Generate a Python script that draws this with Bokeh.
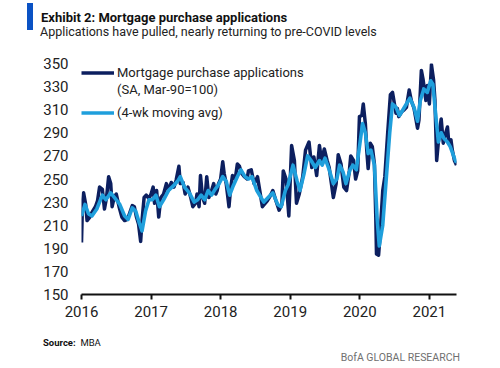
from bokeh.plotting import figure
from bokeh.models import (ColumnDataSource, FixedTicker, Legend, LegendItem, Range1d, Div)
from bokeh.layouts import column
from bokeh.embed import file_html
from bokeh.resources import INLINE

# ---------------- data ----------------
apps_t = [2016.00, 2016.015, 2016.03, 2016.06, 2016.08, 2016.12, 2016.15, 2016.20, 2016.23, 2016.26,
          2016.30, 2016.33, 2016.36, 2016.39, 2016.42, 2016.44, 2016.47, 2016.50, 2016.54, 2016.58,
          2016.62, 2016.66, 2016.69, 2016.73, 2016.76, 2016.79, 2016.82, 2016.85, 2016.87, 2016.90,
          2016.93, 2016.97, 2017.00, 2017.03, 2017.05, 2017.08, 2017.11, 2017.14, 2017.18, 2017.22,
          2017.25, 2017.29, 2017.33, 2017.36, 2017.40, 2017.42, 2017.46, 2017.49, 2017.53, 2017.57,
          2017.60, 2017.64, 2017.66, 2017.69, 2017.71, 2017.74, 2017.77, 2017.80, 2017.83, 2017.87,
          2017.90, 2017.93, 2017.95, 2017.97, 2018.00, 2018.03, 2018.05, 2018.08, 2018.12, 2018.14,
          2018.17, 2018.21, 2018.24, 2018.27, 2018.30, 2018.34, 2018.38, 2018.40, 2018.44, 2018.48,
          2018.53, 2018.60, 2018.67, 2018.71, 2018.75, 2018.79, 2018.84, 2018.88, 2018.90, 2018.94,
          2018.98, 2019.02, 2019.06, 2019.09, 2019.13, 2019.18, 2019.22, 2019.27, 2019.31, 2019.34,
          2019.38, 2019.42, 2019.45, 2019.49, 2019.53, 2019.56, 2019.59, 2019.62, 2019.66, 2019.69,
          2019.73, 2019.77, 2019.81, 2019.85, 2019.87, 2019.91, 2019.94, 2019.97, 2019.995, 2020.03,
          2020.05, 2020.08, 2020.10, 2020.12, 2020.15, 2020.18, 2020.21, 2020.23, 2020.24, 2020.27,
          2020.29, 2020.33, 2020.36, 2020.40, 2020.44, 2020.47, 2020.49, 2020.52, 2020.54, 2020.56,
          2020.60, 2020.64, 2020.67, 2020.71, 2020.74, 2020.78, 2020.83, 2020.85, 2020.885, 2020.91,
          2020.95, 2020.97, 2021.00, 2021.03, 2021.06, 2021.08, 2021.105, 2021.14, 2021.17, 2021.20,
          2021.23, 2021.26, 2021.28, 2021.31, 2021.33, 2021.36, 2021.39]
apps_v = [195, 231, 238, 228, 214, 217, 221, 226, 231, 243,
          241, 224, 234, 252, 246, 226, 234, 237, 226, 217,
          214, 215, 220, 227, 226, 217, 211, 196, 214, 234,
          236, 233, 237, 243, 229, 240, 217, 234, 237, 246,
          240, 247, 243, 249, 261, 246, 247, 237, 243, 234,
          226, 229, 237, 226, 253, 234, 229, 252, 234, 240,
          246, 237, 240, 246, 250, 265, 255, 246, 226, 240,
          253, 250, 263, 261, 255, 252, 250, 257, 258, 246,
          252, 226, 231, 235, 240, 232, 223, 228, 257, 250,
          218, 279, 266, 229, 237, 252, 275, 282, 260, 269,
          253, 279, 266, 276, 266, 260, 247, 234, 246, 271,
          263, 243, 240, 257, 270, 266, 250, 257, 304, 305,
          315, 298, 275, 259, 281, 278, 263, 217, 185, 184,
          200, 240, 252, 289, 323, 325, 318, 307, 311, 304,
          308, 310, 312, 327, 318, 311, 294, 301, 344, 336,
          318, 331, 315, 349, 336, 318, 266, 289, 302, 281,
          289, 295, 281, 284, 275, 266, 262]

avg_t = [2016.00, 2016.05, 2016.10, 2016.15, 2016.22, 2016.30, 2016.35, 2016.42, 2016.50, 2016.55,
         2016.62, 2016.67, 2016.73, 2016.78, 2016.83, 2016.87, 2016.92, 2016.97, 2017.02, 2017.07,
         2017.12, 2017.18, 2017.25, 2017.32, 2017.38, 2017.42, 2017.48, 2017.55, 2017.62, 2017.67,
         2017.72, 2017.77, 2017.82, 2017.87, 2017.92, 2017.97, 2018.03, 2018.08, 2018.13, 2018.18,
         2018.24, 2018.29, 2018.35, 2018.40, 2018.45, 2018.52, 2018.58, 2018.62, 2018.70, 2018.75,
         2018.82, 2018.87, 2018.93, 2018.97, 2019.04, 2019.10, 2019.14, 2019.20, 2019.25, 2019.30,
         2019.36, 2019.42, 2019.46, 2019.50, 2019.56, 2019.62, 2019.67, 2019.71, 2019.76, 2019.80,
         2019.86, 2019.90, 2019.95, 2020.00, 2020.04, 2020.08, 2020.12, 2020.16, 2020.21, 2020.25,
         2020.28, 2020.33, 2020.38, 2020.43, 2020.47, 2020.52, 2020.57, 2020.62, 2020.68, 2020.72,
         2020.78, 2020.83, 2020.87, 2020.92, 2020.97, 2021.02, 2021.05, 2021.10, 2021.13, 2021.17,
         2021.21, 2021.26, 2021.30, 2021.36, 2021.39]
avg_v = [218, 228, 220, 218, 224, 236, 232, 238, 232, 228,
         218, 215, 225, 222, 212, 205, 222, 232, 232, 236,
         226, 232, 240, 244, 248, 252, 243, 238, 230, 232,
         236, 232, 240, 236, 241, 245, 252, 248, 236, 244,
         252, 258, 252, 250, 252, 240, 234, 230, 235, 238,
         228, 226, 240, 245, 262, 248, 240, 255, 270, 266,
         260, 266, 262, 268, 258, 246, 250, 262, 256, 246,
         258, 262, 258, 280, 298, 290, 272, 275, 262, 215,
         192, 210, 250, 290, 315, 312, 305, 310, 316, 320,
         312, 300, 318, 328, 325, 335, 332, 300, 282, 290,
         285, 282, 278, 268, 264]

year_ticks = [2016, 2017, 2018, 2019, 2020, 2021]
value_ticks = [150, 170, 190, 210, 230, 250, 270, 290, 310, 330, 350]

title_text = "Exhibit 2: Mortgage purchase applications"
subtitle_text = "Applications have pulled, nearly returning to pre-COVID levels"
source_label = "Source:"
source_text = "MBA"
brand_text = "BofA GLOBAL RESEARCH"

# ---------------- style ----------------
FONT = "Roboto"
DARK = "#0c1f5f"
LIGHT = "#1f9fdc"
W = 500
HEAD_H, FIG_H, FOOT_H = 42, 284, 42

header = Div(width=W, height=HEAD_H, margin=0, text=f"""
<div style="position:relative;width:{W}px;height:{HEAD_H}px;font-family:Roboto;">
  <div style="position:absolute;left:27px;top:3px;width:6px;height:27px;background:#0a52c4;"></div>
  <div style="position:absolute;left:41px;top:10.6px;font-size:13px;line-height:13px;font-weight:bold;color:#111;white-space:nowrap;">{title_text}</div>
  <div style="position:absolute;left:40px;top:25.5px;font-size:12.5px;line-height:12.5px;color:#222;white-space:nowrap;">{subtitle_text}</div>
</div>""")

footer = Div(width=W, height=FOOT_H, margin=0, text=f"""
<div style="position:relative;width:{W}px;height:{FOOT_H}px;font-family:Roboto;">
  <div style="position:absolute;left:43px;top:12px;font-size:9.5px;line-height:9.5px;color:#111;white-space:nowrap;"><b>{source_label}</b>&nbsp;&nbsp;{source_text}</div>
  <div style="position:absolute;right:40px;top:27px;font-size:10.5px;line-height:10.5px;color:#707070;white-space:nowrap;">{brand_text}</div>
</div>""")

p = figure(width=W, height=FIG_H, output_backend="svg", toolbar_location=None,
           x_range=Range1d(2016.0, 2021.39), y_range=Range1d(150, 350),
           min_border_left=81, min_border_right=44, min_border_top=21, min_border_bottom=32)
p.outline_line_color = None
p.grid.grid_line_color = None
p.background_fill_color = "white"
p.border_fill_color = "white"

src_apps = ColumnDataSource(dict(t=apps_t, v=apps_v))
src_avg = ColumnDataSource(dict(t=avg_t, v=avg_v))
r_apps = p.line("t", "v", source=src_apps, line_color=DARK, line_width=3.5, line_join="round")
r_avg = p.line("t", "v", source=src_avg, line_color=LIGHT, line_width=3.6, line_join="round")

# axes
xa = p.xaxis[0]
xa.ticker = FixedTicker(ticks=year_ticks)
xa.axis_line_color = "#111111"
xa.axis_line_width = 2
xa.major_tick_line_color = "#111111"
xa.major_tick_line_width = 2
xa.major_tick_out = 5
xa.major_tick_in = 0
xa.minor_tick_line_color = None
xa.major_label_standoff = 6
xa.major_label_text_font = FONT
xa.major_label_text_font_size = "15px"
xa.major_label_text_color = "#222222"

ya = p.yaxis[0]
ya.ticker = FixedTicker(ticks=value_ticks)
ya.axis_line_color = None
ya.major_tick_line_color = None
ya.minor_tick_line_color = None
ya.major_tick_out = 0
ya.major_tick_in = 0
ya.major_label_standoff = 13
ya.major_label_text_font = FONT
ya.major_label_text_font_size = "15px"
ya.major_label_text_color = "#222222"

# legends
dummy = p.line(x=[], y=[], line_alpha=0)
leg1 = Legend(items=[LegendItem(label="Mortgage purchase applications", renderers=[r_apps]),
                     LegendItem(label="(SA, Mar-90=100)", renderers=[dummy])],
              location=(0, 196), spacing=0)
leg2 = Legend(items=[LegendItem(label="(4-wk moving avg)", renderers=[r_avg])],
              location=(0, 173), spacing=0)
for lg in (leg1, leg2):
    lg.glyph_width = 33
    lg.glyph_height = 17
    lg.label_height = 17
    lg.label_standoff = 3
    lg.padding = 0
    lg.margin = 0
    lg.border_line_color = None
    lg.background_fill_alpha = 0
    lg.label_text_font = FONT
    lg.label_text_font_size = "13px"
    lg.label_text_color = "#222222"
    p.add_layout(lg)

layout = column(header, p, footer, spacing=0, margin=0)
open("out.html", "w").write(file_html(layout, INLINE))
